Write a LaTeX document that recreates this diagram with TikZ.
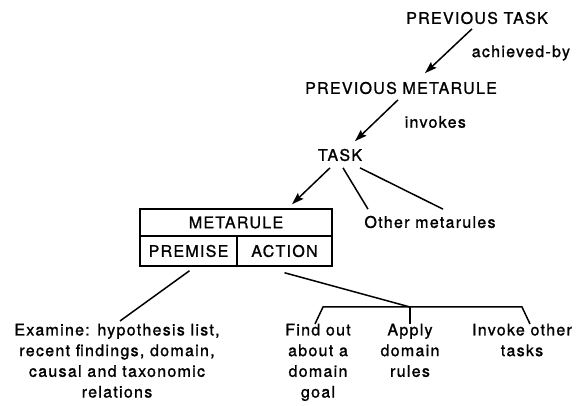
\documentclass[tikz,border=0pt]{standalone}
\usepackage{fontspec}
\setmainfont[LetterSpace=8, FakeBold=1.2]{TeX Gyre Heros}
\usetikzlibrary{arrows.meta}

\begin{document}
\begin{tikzpicture}[x=1pt, y=-1pt, line width=1.5pt,
    lbl/.style={font=\fontsize{16}{20.7}\selectfont, inner sep=2pt},
    cell/.style={draw, lbl, inner sep=0pt},
    tip/.style={-{Stealth[length=12pt,width=8pt,inset=2pt]}}]
  \useasboundingbox (0,0) rectangle (582,406);

  % chain of tasks and metarules
  \node [lbl] (prevtask) at (477,18) {PREVIOUS TASK};
  \node [lbl, anchor=west] (achieved) at (469,53) {achieved-by};
  \node [lbl] (prevmeta) at (401,88) {PREVIOUS METARULE};
  \node [lbl, anchor=west] (invokes) at (402,122) {invokes};
  \node [lbl] (task) at (340,155) {TASK};
  \node [lbl] (other) at (430,222) {Other metarules};

  \draw [tip] ([xshift=-5pt, yshift=-2pt]prevtask.south) -- ([xshift=24pt, yshift=6pt]prevmeta.north);
  \draw [tip] ([xshift=-3pt, yshift=-3pt]prevmeta.south) -- ([xshift=15pt, yshift=5pt]task.north);

  % the metarule box
  \node [cell, minimum width=192pt, minimum height=27pt] (metarule) at (236,222.5) {METARULE};
  \node [cell, minimum width=97pt, minimum height=30pt] (premise) at (188.5,251) {PREMISE};
  \node [cell, minimum width=95pt, minimum height=30pt] (action) at (284.5,251) {ACTION};

  \draw [tip] ([xshift=-10pt, yshift=-4pt]task.south) -- ([xshift=56pt, yshift=4pt]metarule.north);
  \draw ([xshift=3pt, yshift=-4pt]task.south) -- ([xshift=-62pt, yshift=4pt]other.north);
  \draw ([xshift=20pt, yshift=-4pt]task.south) -- ([xshift=13pt, yshift=4pt]other.north);

  % premise and actions
  \node [lbl, anchor=north, align=center] (examine) at (117,321)
    {Examine: hypothesis list,\\recent findings, domain,\\causal and taxonomic\\relations};
  \node [lbl, anchor=north, align=center] (findout) at (318,321) {Find out\\about a\\domain\\goal};
  \node [lbl, anchor=north, align=center] (apply) at (410,321) {Apply\\domain\\rules};
  \node [lbl, anchor=north, align=center] (invoke) at (522,321) {Invoke other\\tasks};

  \coordinate (fork) at (410,307);
  \coordinate (forkl) at (323,307);
  \coordinate (forkr) at (522,307);

  \draw ([xshift=1pt, yshift=-4pt]premise.south) -- ([xshift=3pt]examine.north);
  \draw ([yshift=-6pt]action.south) -- (fork);
  \draw ([xshift=-3pt, yshift=-3pt]findout.north) -- (forkl) -- (forkr) -- ([xshift=8pt, yshift=-3pt]invoke.north);
  \draw (fork) -- ([yshift=-3pt]apply.north);
\end{tikzpicture}
\end{document}
